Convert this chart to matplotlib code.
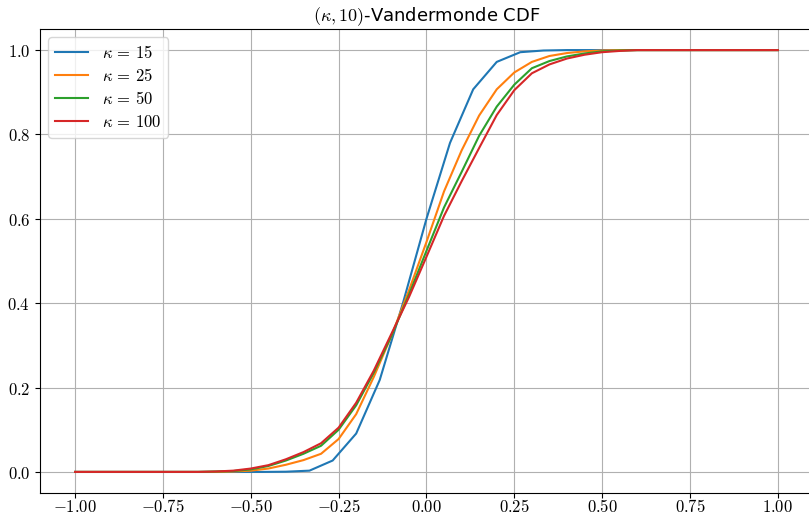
import numpy as np
import matplotlib
matplotlib.use('Agg')
import matplotlib.pyplot as plt
import matplotlib.ticker as ticker

plt.rcParams['mathtext.fontset'] = 'cm'
plt.rcParams['font.family'] = ['DejaVu Sans']

# kappa = 15 : read at x = k/15
x15 = [-1.0, -0.933, -0.867, -0.8, -0.733, -0.667, -0.6, -0.533, -0.467, -0.4,
       -0.333, -0.267, -0.2, -0.133, -0.067, 0.0, 0.067, 0.133, 0.2, 0.267,
       0.333, 0.4, 0.467, 0.533, 0.6, 0.667, 0.733, 0.8, 0.867, 0.933, 1.0]
cdf15 = [0, 0, 0, 0, 0, 0, 0, 0, 0, 0.0005,
         0.003, 0.027, 0.091, 0.218, 0.40, 0.60, 0.78, 0.907, 0.972, 0.995,
         0.999, 1, 1, 1, 1, 1, 1, 1, 1, 1, 1]

# kappa = 25, 50, 100 : read at x step 0.05
xs = [-1.0, -0.95, -0.9, -0.85, -0.8, -0.75, -0.7, -0.65, -0.6, -0.55,
      -0.5, -0.45, -0.4, -0.35, -0.3, -0.25, -0.2, -0.15, -0.1, -0.05,
      0.0, 0.05, 0.1, 0.15, 0.2, 0.25, 0.3, 0.35, 0.4, 0.45,
      0.5, 0.55, 0.6, 0.65, 0.7, 0.75, 0.8, 0.85, 0.9, 0.95, 1.0]
cdf25 = [0, 0, 0, 0, 0, 0, 0, 0, 0.0, 0.001,
         0.003, 0.008, 0.017, 0.028, 0.043, 0.078, 0.137, 0.225, 0.322, 0.43,
         0.545, 0.665, 0.762, 0.845, 0.907, 0.947, 0.972, 0.986, 0.993, 0.997,
         0.999, 1, 1, 1, 1, 1, 1, 1, 1, 1, 1]
cdf50 = [0, 0, 0, 0, 0, 0, 0, 0, 0.001, 0.002,
         0.006, 0.014, 0.027, 0.043, 0.062, 0.100, 0.158, 0.235, 0.322, 0.42,
         0.524, 0.627, 0.711, 0.797, 0.866, 0.918, 0.957, 0.974, 0.985, 0.992,
         0.997, 0.999, 1, 1, 1, 1, 1, 1, 1, 1, 1]
cdf100 = [0, 0, 0, 0, 0, 0, 0, 0, 0.001, 0.003,
          0.008, 0.016, 0.030, 0.047, 0.068, 0.105, 0.164, 0.240, 0.327, 0.414,
          0.51, 0.607, 0.689, 0.768, 0.846, 0.905, 0.945, 0.966, 0.980, 0.989,
          0.995, 0.998, 1, 1, 1, 1, 1, 1, 1, 1, 1]

fig = plt.figure(figsize=(8.09, 5.15), dpi=100)
ax = fig.add_axes([0.0494, 0.0427, 0.9555, 0.901])

ax.plot(x15, cdf15, label=r'$\kappa \,=\, 15$', linewidth=1.5)
ax.plot(xs, cdf25, label=r'$\kappa \,=\, 25$', linewidth=1.5)
ax.plot(xs, cdf50, label=r'$\kappa \,=\, 50$', linewidth=1.5)
ax.plot(xs, cdf100, label=r'$\kappa \,=\, 100$', linewidth=1.5)

ax.xaxis.set_major_locator(ticker.MultipleLocator(0.25))
ax.yaxis.set_major_locator(ticker.MultipleLocator(0.2))
ax.xaxis.set_major_formatter(ticker.FuncFormatter(lambda v, p: r'$%.2f$' % v))
ax.yaxis.set_major_formatter(ticker.FuncFormatter(lambda v, p: r'$%.1f$' % v))
ax.tick_params(labelsize=12)
ax.tick_params(axis='x', pad=0)

ax.grid(True)
ax.set_title(r'$(\kappa, 10)$-Vandermonde CDF', fontsize=13)
ax.legend(loc='upper left', fontsize=12, labelspacing=0.3)

fig.savefig('out.png', dpi=100)
